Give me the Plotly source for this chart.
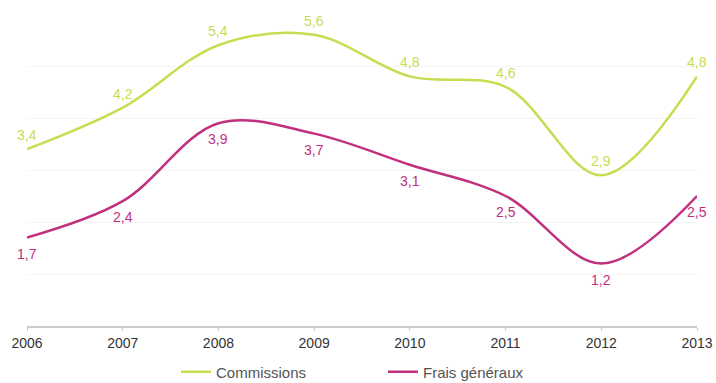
import plotly.graph_objects as go

years = [2006, 2007, 2008, 2009, 2010, 2011, 2012, 2013]
commissions = [3.4, 4.2, 5.4, 5.6, 4.8, 4.6, 2.9, 4.8]
frais_generaux = [1.7, 2.4, 3.9, 3.7, 3.1, 2.5, 1.2, 2.5]

GREEN = "#c8dc52"
MAGENTA = "#c0307f"
FONT = "Liberation Sans, Arial, Helvetica, sans-serif"


def fr(v):
    return f"{v:.1f}".replace(".", ",")


fig = go.Figure()
fig.add_trace(go.Scatter(
    x=years, y=commissions, name="Commissions", mode="lines",
    line=dict(color=GREEN, width=2.5, shape="spline", smoothing=1.0),
    hoverinfo="skip",
))
fig.add_trace(go.Scatter(
    x=years, y=frais_generaux, name="Frais généraux", mode="lines",
    line=dict(color=MAGENTA, width=2.5, shape="spline", smoothing=1.0),
    hoverinfo="skip",
))

annotations = []
for x, v in zip(years, commissions):
    annotations.append(dict(x=x, y=v, text=fr(v), showarrow=False, yshift=14,
                            font=dict(family=FONT, size=14, color=GREEN)))
for x, v in zip(years, frais_generaux):
    annotations.append(dict(x=x, y=v, text=fr(v), showarrow=False, yshift=-16,
                            font=dict(family=FONT, size=14, color=MAGENTA)))

fig.update_layout(
    width=716, height=383,
    margin=dict(l=27, r=19, t=14, b=57),
    paper_bgcolor="white", plot_bgcolor="white",
    showlegend=True,
    legend=dict(orientation="h", xref="container", yref="container",
                x=176 / 716, xanchor="left", y=11 / 383, yanchor="middle",
                font=dict(family=FONT, size=15, color="#555"), itemwidth=30,
                entrywidth=162, entrywidthmode="pixels", bgcolor="rgba(0,0,0,0)"),
    annotations=annotations,
    xaxis=dict(range=[2006, 2013], tickmode="array", tickvals=years,
               ticktext=[str(y) for y in years], automargin=False,
               showgrid=False, zeroline=False, showline=True, linecolor="#cccccc",
               linewidth=2, ticks="outside", ticklen=3, tickcolor="#cccccc",
               tickfont=dict(family=FONT, size=14, color="#333"), fixedrange=True),
    yaxis=dict(range=[0, 6], dtick=1, showgrid=True, gridcolor="#f3f3f3",
               showticklabels=False, zeroline=False, showline=False,
               automargin=False, fixedrange=True),
)

fig.write_html("out.html")
